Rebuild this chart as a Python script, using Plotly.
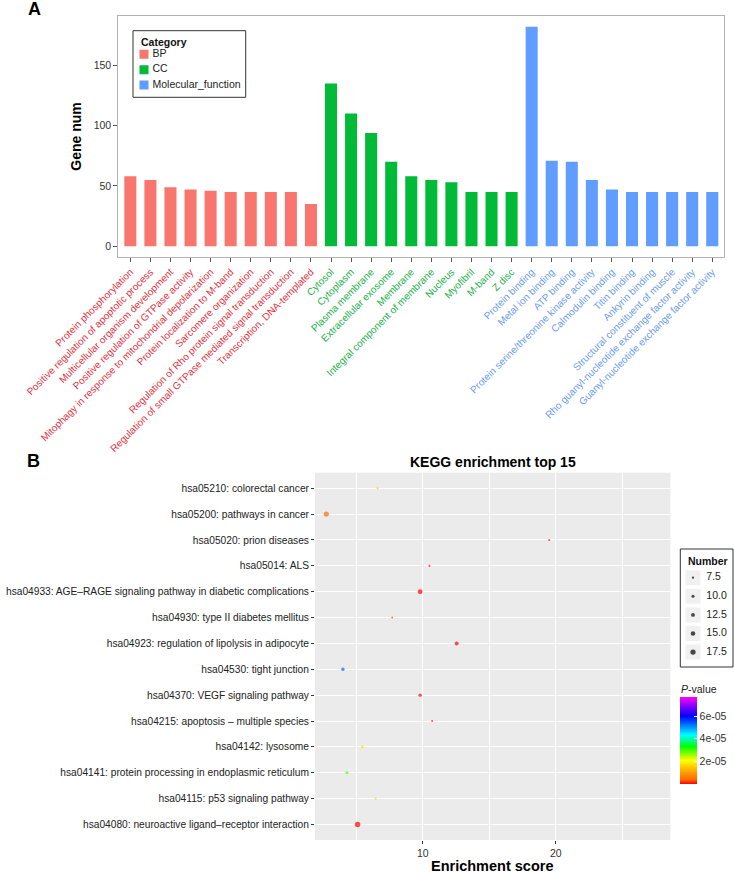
import plotly.graph_objects as go

# ---------------- Panel A data ----------------
bp_terms = ["Protein phosphorylation", "Positive regulation of apoptotic process",
            "Multicellular organism development", "Positive regulation of GTPase activity",
            "Mitophagy in response to mitochondrial depolarization", "Protein localization to M-band",
            "Sarcomere organization", "Regulation of Rho protein signal transduction",
            "Regulation of small GTPase mediated signal transduction", "Transcription, DNA-templated"]
bp_counts = [58, 55, 49, 47, 46, 45, 45, 45, 45, 35]

cc_terms = ["Cytosol", "Cytoplasm", "Plasma membrane", "Extracellular exosome", "Membrane",
            "Integral component of membrane", "Nucleus", "Myofibril", "M-band", "Z disc"]
cc_counts = [135, 110, 94, 70, 58, 55, 53, 45, 45, 45]

mf_terms = ["Protein binding", "Metal ion binding", "ATP binding",
            "Protein serine/threonine kinase activity", "Calmodulin binding", "Titin binding",
            "Ankyrin binding", "Structural constituent of muscle",
            "Rho guanyl-nucleotide exchange factor activity", "Guanyl-nucleotide exchange factor activity"]
mf_counts = [182, 71, 70, 55, 47, 45, 45, 45, 45, 45]

category_names = ["BP", "CC", "Molecular_function"]
y_ticks_a = [0, 50, 100, 150]

# ---------------- Panel B data ----------------
kegg_terms = ["hsa05210: colorectal cancer", "hsa05200: pathways in cancer", "hsa05020: prion diseases",
              "hsa05014: ALS", "hsa04933: AGE–RAGE signaling pathway in diabetic complications",
              "hsa04930: type II diabetes mellitus", "hsa04923: regulation of lipolysis in adipocyte",
              "hsa04530: tight junction", "hsa04370: VEGF signaling pathway",
              "hsa04215: apoptosis – multiple species", "hsa04142: lysosome",
              "hsa04141: protein processing in endoplasmic reticulum", "hsa04115: p53 signaling pathway",
              "hsa04080: neuroactive ligand–receptor interaction"]
enrichment = [6.6, 2.75, 19.5, 10.5, 9.8, 7.7, 12.55, 4.0, 9.8, 10.7, 5.45, 4.3, 6.45, 5.1]
gene_number = [6, 17, 6, 7, 16, 6, 13, 11, 11, 6, 10, 10, 7, 18]
p_values = [1.4e-5, 4.0e-6, 5e-7, 6e-7, 1e-7, 2.5e-6, 2e-7, 5.3e-5, 3e-7, 6e-7, 1.8e-5, 2.9e-5, 1.6e-5, 1e-7]
size_legend_values = [7.5, 10.0, 12.5, 15.0, 17.5]
p_ticks = [2e-5, 4e-5, 6e-5]
p_ticktext = ["2e-05", "4e-05", "6e-05"]
x_ticks_b = [10, 20]

# ---------------- styling ----------------
FONT = "Liberation Sans, Arial, sans-serif"
W, H = 734, 873
bar_colors = ["#F8766D", "#00BA38", "#619CFF"]
label_colors = ["#E5343F", "#23B24B", "#6C9CF2"]
SIZEREF = 18 / 5.5


def px_x(p):
    return p / W


def px_y(p):
    return 1 - p / H


fig = go.Figure()

all_terms = bp_terms + cc_terms + mf_terms
for name, terms, counts, col in zip(category_names, [bp_terms, cc_terms, mf_terms],
                                    [bp_counts, cc_counts, mf_counts], bar_colors):
    fig.add_trace(go.Bar(x=terms, y=counts, name=name, marker=dict(color=col, line=dict(width=0)),
                         width=0.6, xaxis="x", yaxis="y", showlegend=False))

ticktext_a = []
for terms, col in zip([bp_terms, cc_terms, mf_terms], label_colors):
    for t in terms:
        ticktext_a.append(f"<span style='color:{col}'>{t}</span>")

# Panel B scatter
fig.add_trace(go.Scatter(
    x=enrichment, y=kegg_terms, mode="markers", xaxis="x2", yaxis="y2", showlegend=False,
    marker=dict(size=gene_number, sizemode="diameter", sizeref=SIZEREF, sizemin=1,
                color=p_values, cmin=0, cmax=7.7e-5,
                colorscale=[[0.0, "#FF0000"], [0.05, "#FF6A00"], [0.12, "#FF9500"],
                            [0.27, "#FFFF00"], [0.43, "#00FF00"], [0.56, "#00FFFF"],
                            [0.78, "#0000FF"], [1.0, "#FF00FF"]],
                line=dict(width=0),
                colorbar=dict(
                    x=px_x(680), xanchor="left", xpad=0,
                    y=px_y(697), yanchor="top", ypad=0,
                    lenmode="pixels", len=87, thickness=17,
                    outlinewidth=0, tickvals=p_ticks, ticktext=p_ticktext,
                    ticks="inside", ticklen=3, tickcolor="white",
                    tickfont=dict(size=10.5, color="#333"))),
))

# ---- manual "Number" size legend on a hidden axis (x3/y3) ----
n_items = len(size_legend_values)
key_y = [28.7 + 18.6 * i for i in range(n_items)]
fig.add_trace(go.Scatter(x=[12.7] * n_items, y=key_y, mode="markers", xaxis="x3", yaxis="y3",
                         showlegend=False, hoverinfo="skip",
                         marker=dict(symbol="square", size=15, color="#F0F0F0", line=dict(width=0))))
fig.add_trace(go.Scatter(x=[12.7] * n_items, y=key_y, mode="markers", xaxis="x3", yaxis="y3",
                         showlegend=False, hoverinfo="skip",
                         marker=dict(size=size_legend_values, sizemode="diameter", sizeref=SIZEREF,
                                     color="black", line=dict(width=0))))
fig.add_trace(go.Scatter(x=[26] * n_items, y=key_y, mode="text", xaxis="x3", yaxis="y3",
                         text=[f"{v:.1f}" for v in size_legend_values], textposition="middle right",
                         textfont=dict(size=10.5, color="#222"), showlegend=False, hoverinfo="skip"))

# ---- manual "Category" legend on a hidden axis (x4/y4) ----
cat_y = [23.6 + 15.35 * i for i in range(len(category_names))]
fig.add_trace(go.Scatter(x=[11] * 3, y=cat_y, mode="markers", xaxis="x4", yaxis="y4",
                         showlegend=False, hoverinfo="skip",
                         marker=dict(symbol="square", size=9, color=bar_colors, line=dict(width=0))))
fig.add_trace(go.Scatter(x=[19.5] * 3, y=cat_y, mode="text", xaxis="x4", yaxis="y4",
                         text=category_names, textposition="middle right",
                         textfont=dict(size=10.5, color="#222"), showlegend=False, hoverinfo="skip"))

hidden = dict(visible=False, showgrid=False, zeroline=False, fixedrange=True)

shapes = [
    dict(type="rect", xref="x2 domain", yref="y2 domain", x0=0, x1=1, y0=0, y1=1,
         fillcolor="#EBEBEB", line=dict(width=0), layer="below"),
    dict(type="rect", xref="paper", yref="paper", x0=px_x(133), x1=px_x(245.7),
         y0=px_y(97.3), y1=px_y(30.7), fillcolor="white", line=dict(color="#333", width=1),
         layer="below"),
    dict(type="rect", xref="paper", yref="paper", x0=px_x(680.3), x1=px_x(733),
         y0=px_y(667), y1=px_y(549), fillcolor="white", line=dict(color="#333", width=1),
         layer="below"),
]


def ann(text, x, y, size, xanchor="center", color="black"):
    return dict(text=text, x=px_x(x), y=px_y(y), xref="paper", yref="paper",
                xanchor=xanchor, yanchor="middle", showarrow=False,
                font=dict(size=size, color=color))


fig.update_layout(
    width=W, height=H, margin=dict(l=0, r=0, t=0, b=0, autoexpand=False),
    paper_bgcolor="white", plot_bgcolor="rgba(0,0,0,0)",
    font=dict(family=FONT, size=10, color="#222"),
    showlegend=False,
    xaxis=dict(domain=[px_x(118.3), px_x(724.3)], anchor="y", type="category",
               categoryorder="array", categoryarray=all_terms,
               tickvals=all_terms, ticktext=ticktext_a, tickangle=-45,
               tickfont=dict(size=10), range=[-0.6, 29.6],
               showline=True, mirror=True, linecolor="#B3B3B3", linewidth=1,
               ticks="outside", ticklen=4, tickcolor="#555", showgrid=False, zeroline=False,
               automargin=False),
    yaxis=dict(domain=[px_y(257.3), px_y(15.7)], anchor="x", range=[-9.1, 191.1],
               tickvals=y_ticks_a, tickfont=dict(size=10.5, color="#333"),
               showline=True, mirror=True, linecolor="#B3B3B3", linewidth=1,
               ticks="outside", ticklen=4, tickcolor="#555", showgrid=False, zeroline=False,
               title=dict(text="<b>Gene num</b>", font=dict(size=14, color="black"), standoff=8),
               automargin=False),
    xaxis2=dict(domain=[px_x(315), px_x(670.3)], anchor="y2", range=[1.9, 28.6],
                tickvals=x_ticks_b, tickfont=dict(size=10.5, color="#333"),
                showgrid=True, gridcolor="white", gridwidth=1.2,
                minor=dict(dtick=10, tick0=5, showgrid=True, gridcolor="white", gridwidth=0.6),
                ticks="outside", ticklen=3, tickcolor="#333", zeroline=False, showline=False,
                automargin=False),
    yaxis2=dict(domain=[px_y(840), px_y(472.7)], anchor="x2", type="category",
                categoryorder="array", categoryarray=kegg_terms[::-1],
                range=[-0.6, 13.6], tickfont=dict(size=10.2, color="#222"),
                showgrid=True, gridcolor="white", gridwidth=1.2,
                ticks="outside", ticklen=3, tickcolor="#333", zeroline=False, showline=False,
                automargin=False),
    xaxis3=dict(domain=[px_x(680.3), px_x(733)], anchor="y3", range=[0, 52.7], **hidden),
    yaxis3=dict(domain=[px_y(667), px_y(549)], anchor="x3", range=[118, 0], **hidden),
    xaxis4=dict(domain=[px_x(133), px_x(245.7)], anchor="y4", range=[0, 112.7], **hidden),
    yaxis4=dict(domain=[px_y(97.3), px_y(30.7)], anchor="x4", range=[66.6, 0], **hidden),
    shapes=shapes,
    annotations=[
        ann("<b>A</b>", 34, 9, 18),
        ann("<b>B</b>", 33, 461, 18),
        ann("<b>KEGG enrichment top 15</b>", 492.5, 462, 14),
        ann("<b>Enrichment score</b>", 492.5, 866, 14.5),
        ann("<b>Category</b>", 139, 42, 10.5, xanchor="left", color="#111"),
        ann("<b>Number</b>", 686, 561, 10.5, xanchor="left", color="#111"),
        ann("<i>P</i>-value", 679, 689, 10.5, xanchor="left", color="#222"),
    ],
)

fig.write_html("out.html", config={"displayModeBar": False},
               post_script="document.body.style.margin='0';document.body.style.overflow='hidden';")
